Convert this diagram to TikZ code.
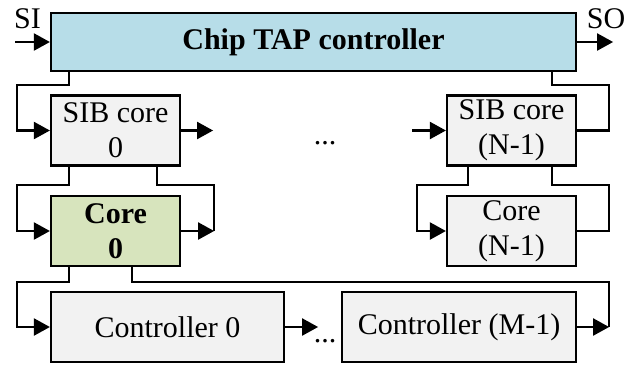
\documentclass[tikz,border=0pt]{standalone}
\usepackage{fontspec}
\setmainfont{Liberation Serif}
\usetikzlibrary{calc,arrows.meta}

\begin{document}
\begin{tikzpicture}[x=0.5pt,y=-0.5pt,line width=1.1pt,
    every node/.style={font=\fontsize{15}{17.5}\selectfont},
    box/.style={draw,fill=boxgray,inner sep=0pt,align=center,minimum width=64.5pt,minimum height=35pt},
    link/.style={-{Triangle[length=8pt,width=8.5pt]}}]
			\definecolor{boxgray}{HTML}{F2F2F2}
			\definecolor{tapblue}{HTML}{B7DDE8}
			\definecolor{coregreen}{HTML}{D7E4BD}
			\useasboundingbox (0,0) rectangle (625,365);
			\node[box,fill=tapblue,minimum width=262.5pt,minimum height=29pt,font=\fontsize{15}{17.5}\selectfont\bfseries] (chip) at (313.5,42) {Chip TAP controller};
			\node[box] (sib0) at (115.5,130.5) {SIB core\\0};
			\node[box] (sibN) at (511.5,130.5) {SIB core\\(N-1)};
			\node[box,fill=coregreen,font=\fontsize{15}{17.5}\selectfont\bfseries] (core0) at (115.5,231) {Core\\0};
			\node[box] (coreN) at (511.5,231) {Core\\(N-1)};
			\node[box,minimum width=116.5pt] (ctrl0) at (167.5,327) {Controller 0};
			\node[box,minimum width=117pt] (ctrlM) at (459,327) {Controller (M-1)};
			\node (si) at (27.5,19) {SI};
			\node (so) at (606,19) {SO};
			\node (dotsA) at (325,143) {...};
			\node (dotsB) at (325,341) {...};
			\coordinate (sin) at (15,42);
			\coordinate (sibNin) at (412,130.5);
			\draw[link] (sin) -- (chip.west);
			\draw[link] (chip.east) -- ++(36,0);
			\draw[link] ($(chip.south west)+(19,0)$) -- ++(0,13) -| ($(sib0.west)+(-33,0)$) -- (sib0.west);
			\draw[link] (sib0.east) -- ++(32,0);
			\draw[link] (sibNin) -- (sibN.west);
			\draw ($(chip.south east)+(-25,0)$) -- ++(0,13) -| ($(sibN.east)+(32,0)$) -- (sibN.east);
			\draw[link] ($(sib0.south west)+(19,0)$) -- ++(0,18) -| ($(core0.west)+(-33,0)$) -- (core0.west);
			\draw ($(sib0.south east)+(-24,0)$) -- ++(0,18) -| ($(core0.east)+(33,0)$);
			\draw[link] (core0.east) -- ++(33,0);
			\draw[link] ($(sibN.south west)+(22,0)$) -- ++(0,18) -| ($(coreN.west)+(-29,0)$) -- (coreN.west);
			\draw ($(sibN.south east)+(-25,0)$) -- ++(0,18) -| ($(coreN.east)+(32,0)$) -- (coreN.east);
			\draw[link] ($(core0.south west)+(19,0)$) -- ++(0,15) -| ($(ctrl0.west)+(-33,0)$) -- (ctrl0.west);
			\draw ($(core0.south west)+(82,0)$) -- ++(0,15) -| ($(ctrlM.east)+(32,0)$);
			\draw[link] (ctrl0.east) -- ++(33,0);
			\draw[link] (ctrlM.east) -- ++(32,0);
		\end{tikzpicture}
\end{document}
